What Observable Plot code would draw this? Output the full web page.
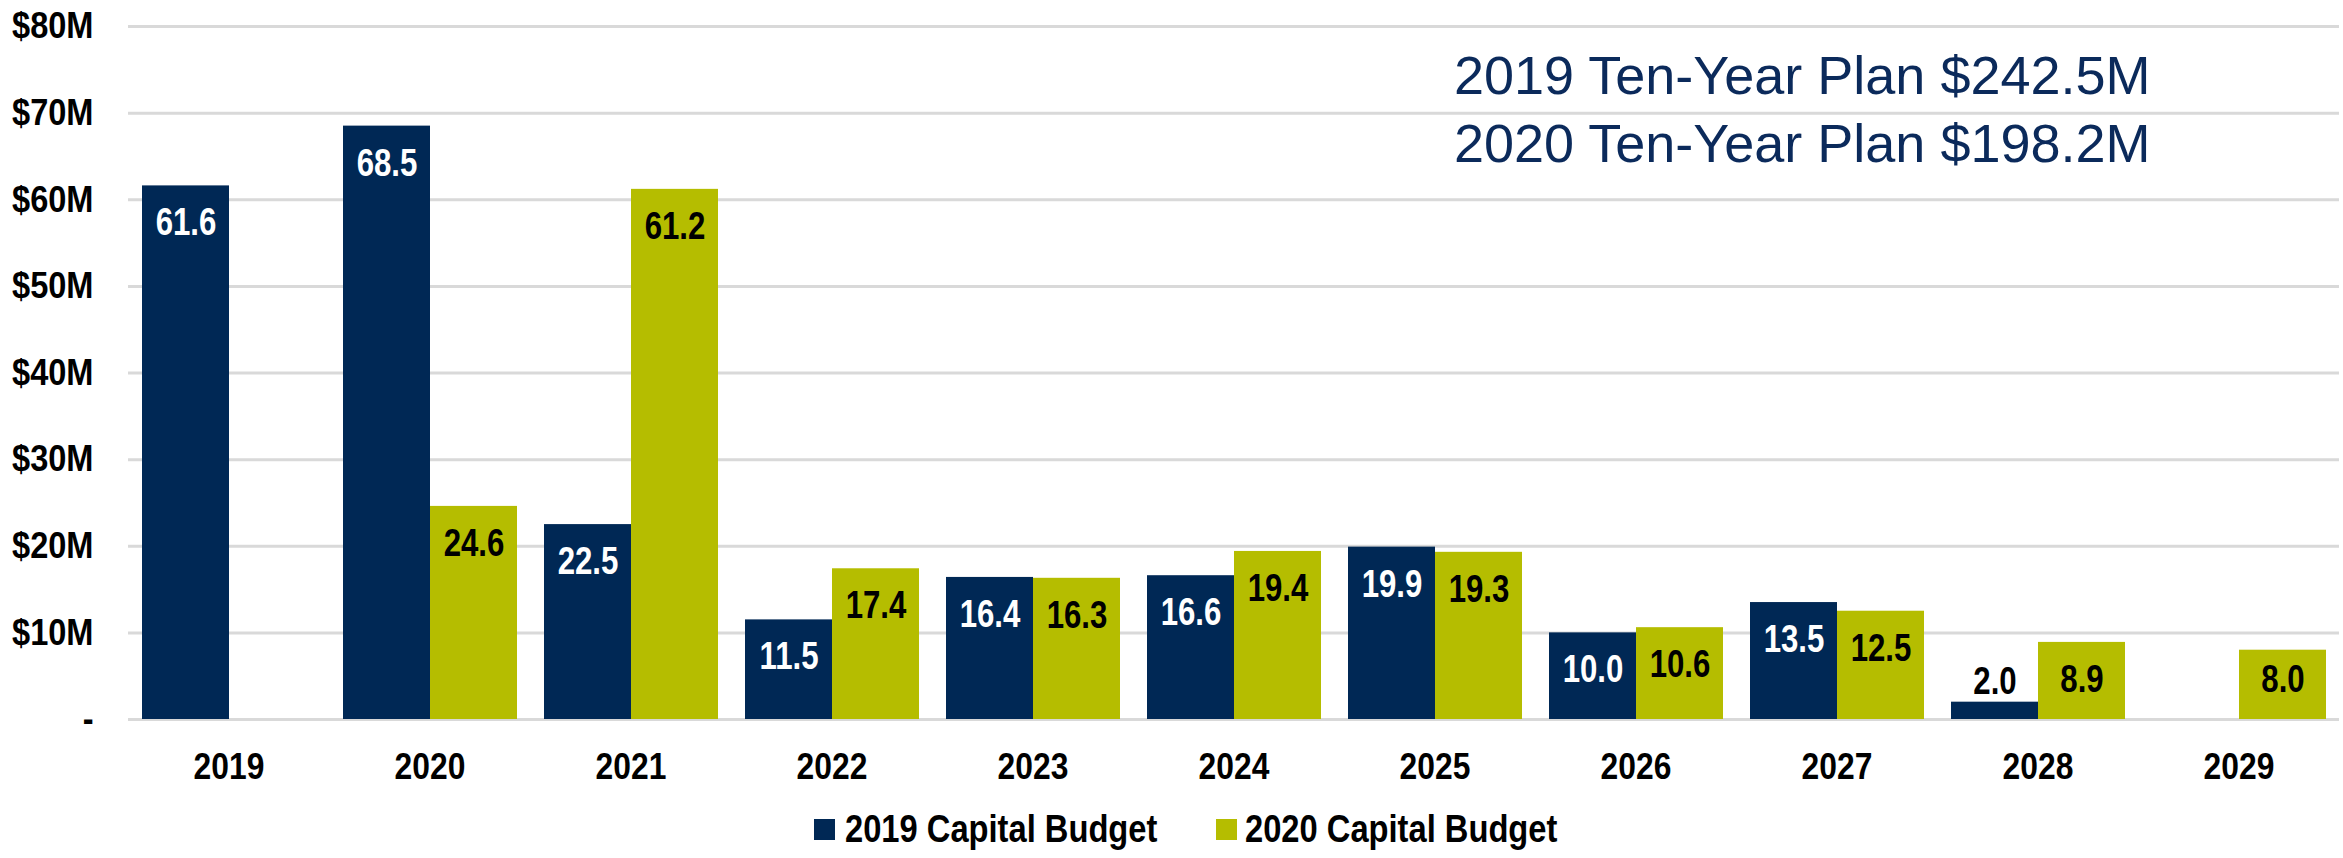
<!DOCTYPE html>
<html>
<head>
<meta charset="utf-8">
<script src="https://cdn.jsdelivr.net/npm/d3@7"></script>
<script src="https://cdn.jsdelivr.net/npm/@observablehq/plot@0.6"></script>
<style>
  body { margin: 0; background: #fff; }
  #wrap { position: relative; width: 2343px; height: 858px; overflow: hidden; background: #fff; }
  #chart { position: absolute; left: 0; top: 0; }
  .plan { position: absolute; left: 1454px; top: 41px; font: 54px "Liberation Sans", Arial, sans-serif; color: #0b2a5b; line-height: 68px; white-space: nowrap; }
  .lg { position: absolute; top: 795px; height: 68px; display: flex; align-items: center; }
  .lg .sw { width: 21px; height: 21px; }
  .lg .tx { font: bold 38px "Liberation Sans", Arial, sans-serif; color: #000; white-space: nowrap; transform: scaleX(0.86); transform-origin: left center; }
  #chart svg [aria-label^="fx-axis"] text { font: bold 37px "Liberation Sans", Arial, sans-serif; fill: #000; }
  #chart svg [aria-label^="y-axis"] text { font: bold 37px "Liberation Sans", Arial, sans-serif; fill: #000; }
</style>
</head>
<body>
<div id="wrap">
  <div id="chart"></div>
  <div class="plan" id="plan"></div>
  <div id="legend"></div>
</div>
<script>
const years = ["2019","2020","2021","2022","2023","2024","2025","2026","2027","2028","2029"];
const series = ["2019 Capital Budget", "2020 Capital Budget"];
const budget2019 = [61.6, 68.5, 22.5, 11.5, 16.4, 16.6, 19.9, 10.0, 13.5, 2.0, null];
const budget2020 = [null, 24.6, 61.2, 17.4, 16.3, 19.4, 19.3, 10.6, 12.5, 8.9, 8.0];
const yTicks = [0, 10, 20, 30, 40, 50, 60, 70, 80];
const seriesColors = ["#002855", "#b5bd00"];
const planLines = ["2019 Ten-Year Plan $242.5M", "2020 Ten-Year Plan $198.2M"];

const rows = [];
years.forEach((yr, i) => {
  if (budget2019[i] != null) rows.push({year: yr, series: series[0], value: budget2019[i]});
  if (budget2020[i] != null) rows.push({year: yr, series: series[1], value: budget2020[i]});
});

const labelFont = {fontSize: 39, fontWeight: "bold", fontFamily: '"Liberation Sans", Arial, sans-serif'};
const fmt = d => d.value.toFixed(1);

const chart = Plot.plot({
  width: 2343,
  height: 790,
  marginTop: 26,
  marginBottom: 71,
  marginLeft: 124,
  marginRight: 0,
  style: {background: "transparent", overflow: "visible"},
  facet: {data: rows, x: "year"},
  fx: {domain: years, padding: 0, axis: "bottom", tickSize: 0, tickPadding: 33, label: null},
  x: {domain: series, paddingInner: 0, paddingOuter: 0.146, axis: null},
  y: {domain: [0, 80], ticks: yTicks, tickFormat: d => d === 0 ? "-" : `$${d}M`, tickSize: 0, tickPadding: 35, label: null},
  color: {domain: series, range: seriesColors},
  marks: [
    Plot.ruleY(yTicks, {stroke: "#d9d9d9", strokeWidth: 3}),
    Plot.barY(rows, {x: "series", y: "value", fill: "series"}),
    Plot.text(rows, {filter: d => d.series === series[0] && d.value >= 8.5, x: "series", y: "value", text: fmt, dy: 37, fill: "white", ...labelFont}),
    Plot.text(rows, {filter: d => d.series === series[1] && d.value >= 8.5, x: "series", y: "value", text: fmt, dy: 37, fill: "black", ...labelFont}),
    Plot.text(rows, {filter: d => d.series === series[1] && d.value < 8.5 && d.value >= 3, x: "series", y: "value", text: fmt, dy: 29, fill: "black", ...labelFont}),
    Plot.text(rows, {filter: d => d.value < 3, x: "series", y: "value", text: fmt, dy: -21, fill: "black", ...labelFont})
  ]
});
document.getElementById("chart").appendChild(chart);

// horizontal squeeze of the condensed bold labels
function squeeze(sel, s) {
  chart.querySelectorAll(sel).forEach(el => {
    const x = parseFloat(el.getAttribute("x")) || 0;
    const y = parseFloat(el.getAttribute("y")) || 0;
    const t = el.getAttribute("transform") || "";
    el.setAttribute("transform", `${t} translate(${x},${y}) scale(${s},1) translate(${-x},${-y})`);
  });
}
squeeze('[aria-label^="fx-axis"] text', 0.86);
squeeze('[aria-label^="y-axis"] text', 0.88);
squeeze('[aria-label="text"] text', 0.8);

document.getElementById("plan").innerHTML = planLines.map(t => `<div>${t}</div>`).join("");
const legendPos = [[814, 845], [1216, 1245]];
document.getElementById("legend").innerHTML = series.map((s, i) =>
  `<div class="lg" style="left:${legendPos[i][0]}px"><div class="sw" style="background:${seriesColors[i]}"></div></div>` +
  `<div class="lg" style="left:${legendPos[i][1]}px"><span class="tx">${s}</span></div>`).join("");
</script>
</body>
</html>
